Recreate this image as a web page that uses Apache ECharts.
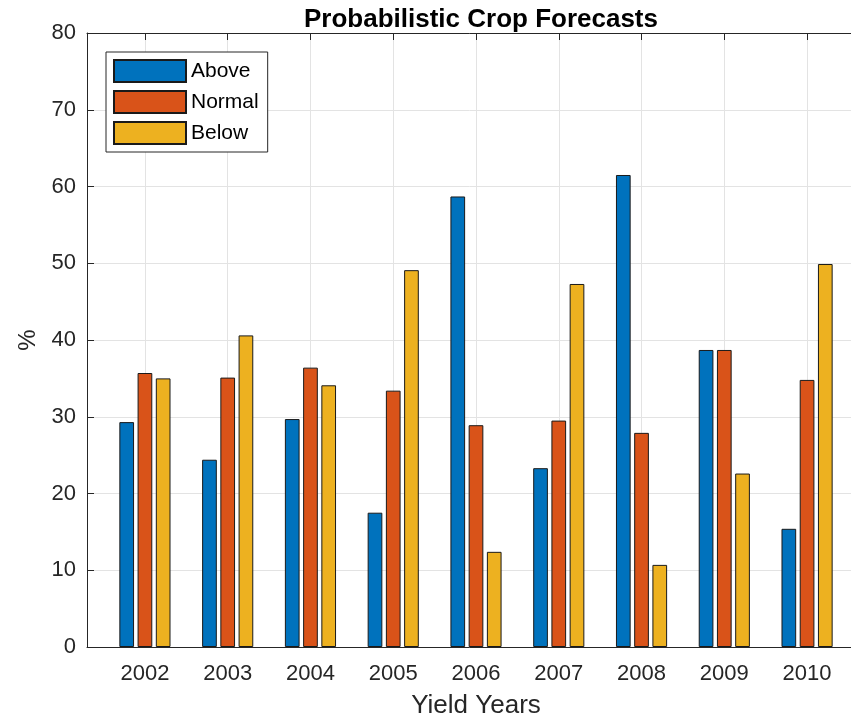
<!DOCTYPE html>
<html>
<head>
<meta charset="utf-8">
<script src="https://cdn.jsdelivr.net/npm/echarts@6/dist/echarts.min.js"></script>
<style>html,body{margin:0;padding:0;background:#fff;overflow:hidden;}#c{width:851px;height:718px;}</style>
</head>
<body>
<div id="c"></div>
<script>
const years = [2002, 2003, 2004, 2005, 2006, 2007, 2008, 2009, 2010];
const above = [29.3, 24.4, 29.7, 17.5, 58.7, 23.3, 61.5, 38.7, 15.4];
const normal = [35.7, 35.1, 36.4, 33.4, 28.9, 29.5, 27.9, 38.7, 34.8];
const below = [35.0, 40.6, 34.1, 49.1, 12.4, 47.3, 10.7, 22.6, 49.9];
const seriesNames = ['Above', 'Normal', 'Below'];
const yTicks = [0, 10, 20, 30, 40, 50, 60, 70, 80];

const colors = ['#0072BD', '#D95319', '#EDB120'];
const font = 'Liberation Sans, Arial, sans-serif';
const axisColor = '#262626';
const gridColor = '#e3e3e3';

const chart = echarts.init(document.getElementById('c'), null, {renderer: 'canvas'});
const mk = (arr) => years.map((y, i) => [y, arr[i]]);
const seriesData = [above, normal, below];

const option = {
  backgroundColor: '#fff',
  animation: false,
  title: {
    text: 'Probabilistic Crop Forecasts',
    left: 476, top: 2, textAlign: 'center',
    textStyle: {fontFamily: font, fontWeight: 'bold', fontSize: 26, color: '#000'}
  },
  legend: {
    orient: 'vertical', left: 106, top: 52,
    icon: 'rect',
    itemWidth: 72, itemHeight: 22, itemGap: 7,
    padding: [7, 9, 7, 7],
    borderColor: axisColor, borderWidth: 1, backgroundColor: '#fff',
    textStyle: {fontFamily: font, fontSize: 21, color: '#000'},
    data: seriesNames
  },
  grid: {left: 87, width: 778, top: 33, bottom: 71, containLabel: false, outerBoundsMode: 'none'},
  xAxis: [{
    type: 'value', min: 2001.3, max: 2010.7, minInterval: 1, maxInterval: 1,
    position: 'bottom',
    name: 'Yield Years', nameLocation: 'middle', nameGap: 46,
    nameTextStyle: {fontFamily: font, fontSize: 26, color: axisColor},
    axisLine: {show: true, lineStyle: {color: axisColor, width: 1}},
    axisTick: {show: true, inside: true, length: 7, lineStyle: {color: axisColor}},
    axisLabel: {fontFamily: font, fontSize: 22, color: axisColor, margin: 16,
      showMinLabel: false, showMaxLabel: false,
      formatter: v => (Math.abs(v - Math.round(v)) < 1e-6 ? String(Math.round(v)) : '')},
    splitLine: {show: true, lineStyle: {color: gridColor, width: 1}}
  }, {
    type: 'value', min: 2001.3, max: 2010.7, minInterval: 1, maxInterval: 1,
    position: 'top',
    axisLine: {show: true, onZero: false, lineStyle: {color: axisColor, width: 1}},
    axisTick: {show: true, inside: true, length: 7, lineStyle: {color: axisColor}},
    axisLabel: {show: false},
    splitLine: {show: false}
  }],
  yAxis: [{
    type: 'value', min: 0, max: 80, interval: 10,
    name: '%', nameLocation: 'middle', nameGap: 46, nameRotate: 90,
    nameTextStyle: {fontFamily: font, fontSize: 24, color: axisColor},
    axisLine: {show: true, lineStyle: {color: axisColor, width: 1}},
    axisTick: {show: true, inside: true, length: 7, lineStyle: {color: axisColor}},
    axisLabel: {fontFamily: font, fontSize: 22, color: axisColor, margin: 11,
      formatter: v => (yTicks.includes(v) ? String(v) : '')},
    splitLine: {show: true, lineStyle: {color: gridColor, width: 1}}
  }, {
    type: 'value', min: 0, max: 80, interval: 10, position: 'right',
    axisLine: {show: true, onZero: false, lineStyle: {color: axisColor, width: 1}},
    axisTick: {show: true, inside: true, length: 7, lineStyle: {color: axisColor}},
    axisLabel: {show: false}, splitLine: {show: false}
  }],
  series: seriesNames.map((n, i) => ({
    name: n, type: 'bar', xAxisIndex: 0, yAxisIndex: 0,
    data: mk(seriesData[i]),
    barWidth: 14.7, barGap: '24%',
    itemStyle: {color: colors[i], borderColor: '#1a1a1a', borderWidth: 1},
    z: 3
  }))
};
chart.setOption(option);
</script>
</body>
</html>
